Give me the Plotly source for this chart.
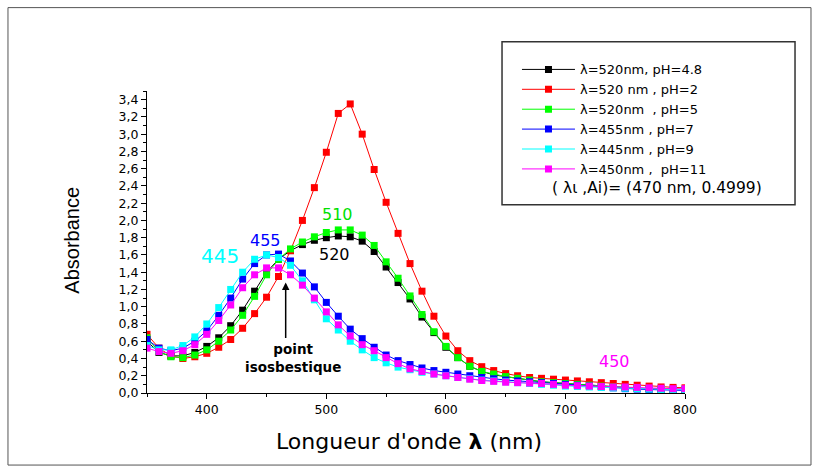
import plotly.graph_objects as go

# Wavelength grid (nm)
wavelength = list(range(350, 801, 10))

# Absorbance spectra at each pH
abs_ph48 = [0.60, 0.47, 0.43, 0.43, 0.47, 0.54, 0.64, 0.78, 0.96, 1.18,
            1.40, 1.55, 1.65, 1.72, 1.77, 1.80, 1.82, 1.81, 1.76, 1.64,
            1.46, 1.28, 1.09, 0.88, 0.70, 0.53, 0.41, 0.31, 0.25, 0.21,
            0.19, 0.17, 0.15, 0.13, 0.12, 0.11, 0.10, 0.09, 0.08, 0.07,
            0.06, 0.055, 0.05, 0.045, 0.04, 0.04]
abs_ph2 = [0.68, 0.52, 0.43, 0.40, 0.42, 0.46, 0.53, 0.62, 0.75, 0.92,
           1.11, 1.35, 1.65, 2.00, 2.38, 2.79, 3.24, 3.35, 3.00, 2.59,
           2.21, 1.85, 1.50, 1.18, 0.89, 0.66, 0.49, 0.375, 0.305, 0.26,
           0.225, 0.20, 0.18, 0.17, 0.16, 0.15, 0.14, 0.13, 0.12, 0.11,
           0.10, 0.09, 0.08, 0.07, 0.065, 0.06]
abs_ph5 = [0.64, 0.48, 0.42, 0.41, 0.44, 0.50, 0.60, 0.73, 0.90, 1.12,
           1.37, 1.55, 1.67, 1.75, 1.81, 1.86, 1.89, 1.89, 1.83, 1.71,
           1.52, 1.33, 1.125, 0.91, 0.71, 0.54, 0.41, 0.31, 0.25, 0.22,
           0.19, 0.17, 0.15, 0.13, 0.12, 0.11, 0.10, 0.09, 0.08, 0.07,
           0.06, 0.055, 0.05, 0.045, 0.04, 0.04]
abs_ph7 = [0.62, 0.52, 0.49, 0.52, 0.60, 0.72, 0.90, 1.10, 1.32, 1.50,
           1.60, 1.61, 1.53, 1.39, 1.23, 1.05, 0.89, 0.74, 0.63, 0.53,
           0.44, 0.375, 0.33, 0.29, 0.26, 0.24, 0.22, 0.20, 0.18, 0.165,
           0.15, 0.14, 0.13, 0.12, 0.11, 0.10, 0.09, 0.08, 0.07, 0.06,
           0.05, 0.045, 0.04, 0.035, 0.03, 0.03]
abs_ph9 = [0.55, 0.50, 0.50, 0.55, 0.65, 0.80, 0.99, 1.20, 1.40, 1.55,
           1.60, 1.57, 1.48, 1.30, 1.08, 0.86, 0.73, 0.60, 0.50, 0.41,
           0.35, 0.30, 0.27, 0.24, 0.22, 0.20, 0.18, 0.165, 0.15, 0.14,
           0.13, 0.12, 0.11, 0.10, 0.09, 0.08, 0.075, 0.07, 0.065, 0.06,
           0.055, 0.05, 0.045, 0.04, 0.04, 0.04]
abs_ph11 = [0.52, 0.48, 0.46, 0.49, 0.56, 0.68, 0.84, 1.02, 1.22, 1.37,
            1.45, 1.45, 1.37, 1.25, 1.10, 0.94, 0.79, 0.66, 0.56, 0.49,
            0.41, 0.34, 0.28, 0.25, 0.22, 0.20, 0.18, 0.16, 0.145, 0.135,
            0.125, 0.12, 0.115, 0.11, 0.10, 0.09, 0.085, 0.08, 0.075, 0.07,
            0.07, 0.065, 0.06, 0.055, 0.05, 0.05]

series_names = ["λ=520nm, pH=4.8", "λ=520 nm , pH=2", "λ=520nm\u00a0\u00a0, pH=5",
                "λ=455nm , pH=7", "λ=445nm , pH=9", "λ=450nm ,\u00a0\u00a0pH=11"]
series_values = [abs_ph48, abs_ph2, abs_ph5, abs_ph7, abs_ph9, abs_ph11]
series_colors = ["#000000", "#ff0000", "#00ff00", "#0000ff", "#00ffff", "#ff00ff"]

fig = go.Figure()
for name, vals, col in zip(series_names, series_values, series_colors):
    fig.add_trace(go.Scatter(
        x=wavelength, y=vals, name=name, mode="lines+markers",
        line=dict(color=col, width=1),
        marker=dict(symbol="square", size=7, color=col, line=dict(width=0)),
    ))

wide = "DejaVu Sans, Verdana, sans-serif"
axis_font = dict(family=wide, size=12.5, color="#000")

fig.update_layout(
    width=819, height=472,
    margin=dict(l=147, r=134, t=91, b=79),
    paper_bgcolor="white", plot_bgcolor="white",
    separators=", ",
    showlegend=True,
    legend=dict(x=0.6877, y=1.121, xanchor="left", yanchor="top",
                bgcolor="rgba(0,0,0,0)", borderwidth=0,
                font=dict(family=wide, size=13, color="#000"),
                itemwidth=53, tracegroupgap=0),
    xaxis=dict(range=[350, 800], dtick=100, tick0=0, showgrid=False, zeroline=False,
               showline=True, linecolor="#000", linewidth=1,
               ticks="outside", ticklen=5, tickcolor="#000", tickfont=axis_font,
               minor=dict(dtick=50, ticks="outside", ticklen=3, tickcolor="#000")),
    yaxis=dict(range=[0, 3.5], dtick=0.2, tick0=0, tickformat=".1f", showgrid=False,
               zeroline=False, showline=True, linecolor="#000", linewidth=1,
               ticks="outside", ticklen=5, tickcolor="#000", tickfont=axis_font,
               minor=dict(dtick=0.1, ticks="outside", ticklen=3, tickcolor="#000")),
)

# Outer frame and legend box
fig.add_shape(type="rect", xref="paper", yref="paper",
              x0=-0.2584, x1=1.2342, y0=-0.2386, y1=1.2761,
              line=dict(color="#555", width=1))
fig.add_shape(type="rect", xref="paper", yref="paper",
              x0=0.6599, x1=1.2045, y0=0.6231, y1=1.1634,
              line=dict(color="#333", width=1.5))

annotations = [
    dict(x=0.948, y=0.68, xref="paper", yref="paper", xanchor="center", yanchor="middle",
         text="( λι ,Ai)= (470 nm, 0.4999)",
         font=dict(family=wide, size=15.5, color="#000"), showarrow=False),
    dict(x=520, y=3.63, text="520", font=dict(family=wide, size=16, color="#ff0000"), showarrow=False),
    dict(x=509, y=2.07, text="510", font=dict(family=wide, size=16, color="#00e000"), showarrow=False),
    dict(x=507, y=1.61, text="520", font=dict(family=wide, size=16, color="#000"), showarrow=False),
    dict(x=449, y=1.77, text="455", font=dict(family=wide, size=16, color="#0000ff"), showarrow=False),
    dict(x=411, y=1.59, text="445", font=dict(family=wide, size=20, color="#00ffff"), showarrow=False),
    dict(x=741, y=0.37, text="450", font=dict(family=wide, size=16, color="#ff00ff"), showarrow=False),
    dict(x=472.5, y=0.40, text="<b>point<br>isosbestique</b>", align="center",
         font=dict(family=wide, size=13.5, color="#000"), showarrow=False),
    dict(x=466, y=1.28, ax=0, ay=57, text="", showarrow=True, arrowhead=2,
         arrowsize=1, arrowwidth=1.5, arrowcolor="#000"),
    dict(x=-0.139, y=0.505, xref="paper", yref="paper", xanchor="center", yanchor="middle",
         text="Absorbance", textangle=-90, showarrow=False,
         font=dict(family="Liberation Sans, Arial, sans-serif", size=20, color="#000")),
    dict(x=0.487, y=-0.16, xref="paper", yref="paper", xanchor="center", yanchor="middle",
         text="Longueur d'onde <b>λ</b> (nm)", showarrow=False,
         font=dict(family=wide, size=22, color="#000")),
]
for a in annotations:
    fig.add_annotation(**a)

fig.write_html("out.html")
